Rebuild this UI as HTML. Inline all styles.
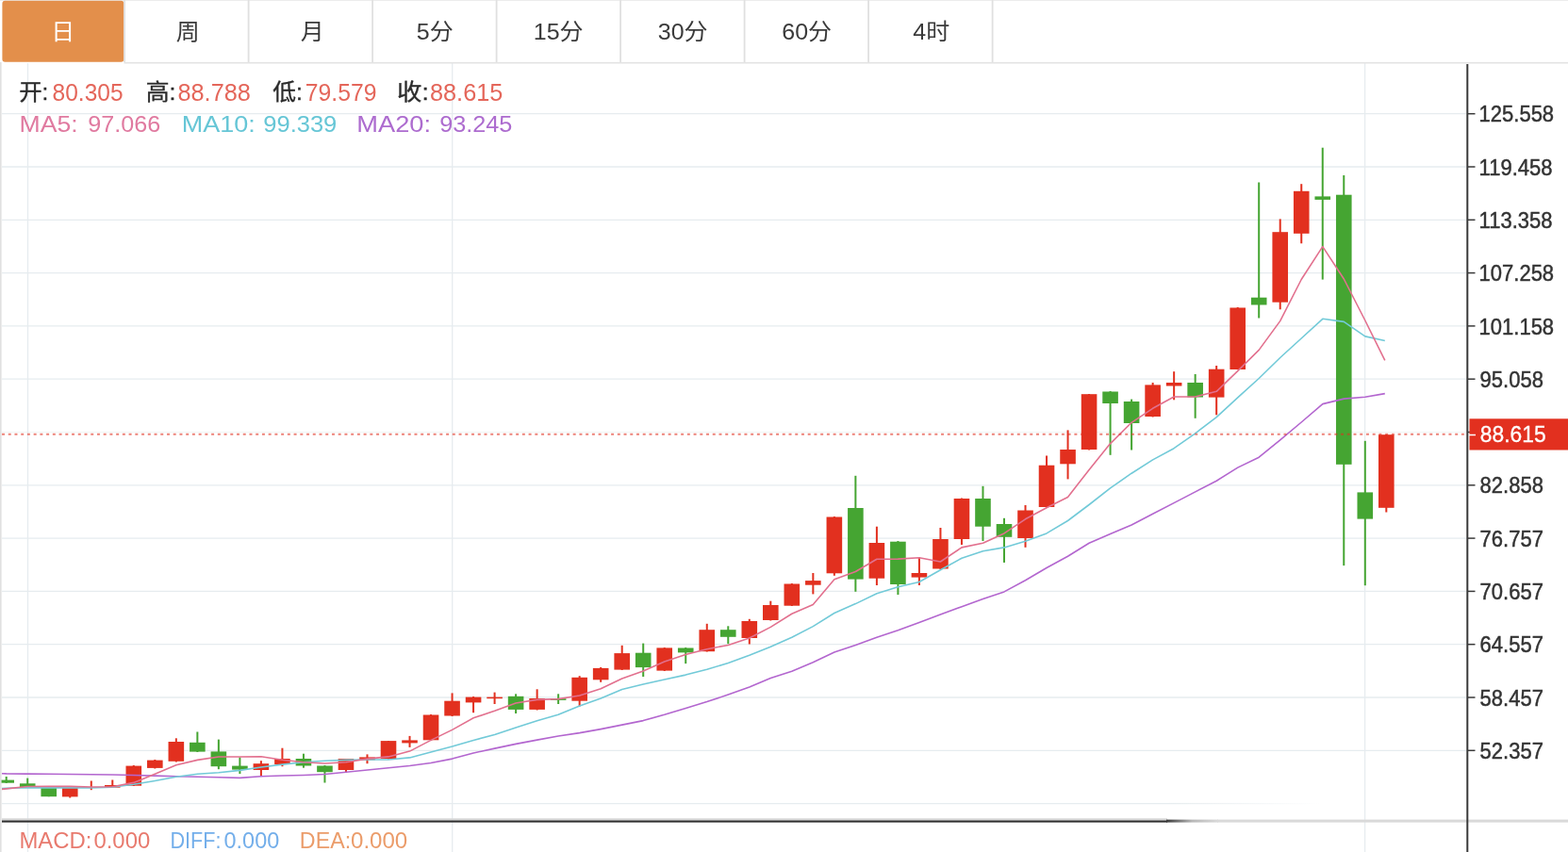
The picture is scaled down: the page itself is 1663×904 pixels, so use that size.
<!DOCTYPE html>
<html><head><meta charset="utf-8"><style>
html,body{margin:0;padding:0;background:#fff;}
body{width:1663px;height:904px;overflow:hidden;}
svg{display:block;}
text{font-family:"Liberation Sans", "Noto Sans CJK SC", sans-serif;}
.ax{font-size:22px;fill:#333;}
.lab{font-size:22px;}
.num{font-size:24px;}
.num2{font-size:22px;}
.tab{font-size:23px;}
</style></head><body>
<svg width="1663" height="904" viewBox="0 0 1663 904">
<rect width="1663" height="904" fill="#fff"/>
<defs><linearGradient id="fade" x1="0" x2="1" y1="0" y2="0"><stop offset="0" stop-color="#3a3a3a"/><stop offset="0.5" stop-color="#b8b8b8"/><stop offset="1" stop-color="#d9d9d9"/></linearGradient><linearGradient id="gfade" x1="0" x2="1" y1="0" y2="0"><stop offset="0" stop-color="#e6ecef"/><stop offset="1" stop-color="#ffffff"/></linearGradient></defs>
<line x1="2" y1="120.7" x2="1555" y2="120.7" stroke="#e6ecef" stroke-width="1.3"/>
<line x1="2" y1="177.0" x2="1555" y2="177.0" stroke="#e6ecef" stroke-width="1.3"/>
<line x1="2" y1="233.3" x2="1555" y2="233.3" stroke="#e6ecef" stroke-width="1.3"/>
<line x1="2" y1="289.6" x2="1555" y2="289.6" stroke="#e6ecef" stroke-width="1.3"/>
<line x1="2" y1="345.9" x2="1555" y2="345.9" stroke="#e6ecef" stroke-width="1.3"/>
<line x1="2" y1="402.2" x2="1555" y2="402.2" stroke="#e6ecef" stroke-width="1.3"/>
<line x1="2" y1="458.5" x2="1555" y2="458.5" stroke="#f1f5f5" stroke-width="1.2"/>
<line x1="2" y1="514.8" x2="1555" y2="514.8" stroke="#e6ecef" stroke-width="1.3"/>
<line x1="2" y1="571.1" x2="1555" y2="571.1" stroke="#e6ecef" stroke-width="1.3"/>
<line x1="2" y1="627.4" x2="1555" y2="627.4" stroke="#e6ecef" stroke-width="1.3"/>
<line x1="2" y1="683.7" x2="1555" y2="683.7" stroke="#e6ecef" stroke-width="1.3"/>
<line x1="2" y1="740.0" x2="1555" y2="740.0" stroke="#e6ecef" stroke-width="1.3"/>
<line x1="2" y1="796.3" x2="1555" y2="796.3" stroke="#e6ecef" stroke-width="1.3"/>
<line x1="2" y1="852.6" x2="1240" y2="852.6" stroke="#e6ecef" stroke-width="1.3"/>
<rect x="1240" y="851.95" width="160" height="1.3" fill="url(#gfade)"/>
<line x1="29.5" y1="67" x2="29.5" y2="904" stroke="#e6ecef" stroke-width="1.3"/>
<line x1="479.7" y1="67" x2="479.7" y2="904" stroke="#e6ecef" stroke-width="1.3"/>
<line x1="1447.6" y1="67" x2="1447.6" y2="904" stroke="#e6ecef" stroke-width="1.3"/>
<rect x="5.70" y="824.0" width="2" height="7.0" fill="#45a532"/>
<rect x="-1.60" y="827.6" width="16.6" height="3.1" fill="#45a532"/>
<rect x="28.22" y="825.6" width="2" height="9.9" fill="#45a532"/>
<rect x="20.92" y="831.3" width="16.6" height="4.0" fill="#45a532"/>
<rect x="50.73" y="835.4" width="2" height="9.8" fill="#45a532"/>
<rect x="43.43" y="835.4" width="16.6" height="9.8" fill="#45a532"/>
<rect x="73.25" y="834.0" width="2" height="12.5" fill="#e2301f"/>
<rect x="65.95" y="835.0" width="16.6" height="10.4" fill="#e2301f"/>
<rect x="95.77" y="828.5" width="2" height="9.7" fill="#e2301f"/>
<rect x="118.28" y="827.5" width="2" height="8.5" fill="#e2301f"/>
<rect x="110.98" y="833.0" width="16.6" height="2.7" fill="#e2301f"/>
<rect x="140.80" y="812.0" width="2" height="22.0" fill="#e2301f"/>
<rect x="133.50" y="812.6" width="16.6" height="21.1" fill="#e2301f"/>
<rect x="163.32" y="806.0" width="2" height="9.5" fill="#e2301f"/>
<rect x="156.02" y="806.6" width="16.6" height="8.3" fill="#e2301f"/>
<rect x="185.84" y="783.3" width="2" height="25.2" fill="#e2301f"/>
<rect x="178.54" y="787.0" width="16.6" height="20.8" fill="#e2301f"/>
<rect x="208.35" y="776.5" width="2" height="21.5" fill="#45a532"/>
<rect x="201.05" y="787.8" width="16.6" height="9.8" fill="#45a532"/>
<rect x="230.87" y="784.6" width="2" height="31.6" fill="#45a532"/>
<rect x="223.57" y="797.4" width="16.6" height="15.8" fill="#45a532"/>
<rect x="253.39" y="803.5" width="2" height="17.5" fill="#45a532"/>
<rect x="246.09" y="812.6" width="16.6" height="4.0" fill="#45a532"/>
<rect x="275.90" y="807.2" width="2" height="16.5" fill="#e2301f"/>
<rect x="268.60" y="810.2" width="16.6" height="6.8" fill="#e2301f"/>
<rect x="298.42" y="793.7" width="2" height="19.5" fill="#e2301f"/>
<rect x="291.12" y="805.0" width="16.6" height="6.0" fill="#e2301f"/>
<rect x="320.94" y="799.7" width="2" height="15.0" fill="#45a532"/>
<rect x="313.64" y="805.0" width="16.6" height="7.5" fill="#45a532"/>
<rect x="343.45" y="812.0" width="2" height="18.5" fill="#45a532"/>
<rect x="336.15" y="812.5" width="16.6" height="6.7" fill="#45a532"/>
<rect x="365.97" y="805.0" width="2" height="15.0" fill="#e2301f"/>
<rect x="358.67" y="805.0" width="16.6" height="12.0" fill="#e2301f"/>
<rect x="388.49" y="800.4" width="2" height="9.8" fill="#e2301f"/>
<rect x="381.19" y="803.4" width="16.6" height="3.0" fill="#e2301f"/>
<rect x="411.01" y="786.0" width="2" height="19.5" fill="#e2301f"/>
<rect x="403.71" y="786.1" width="16.6" height="18.9" fill="#e2301f"/>
<rect x="433.52" y="780.9" width="2" height="12.0" fill="#e2301f"/>
<rect x="426.22" y="785.4" width="16.6" height="3.0" fill="#e2301f"/>
<rect x="456.04" y="758.0" width="2" height="28.0" fill="#e2301f"/>
<rect x="448.74" y="758.5" width="16.6" height="26.8" fill="#e2301f"/>
<rect x="478.56" y="735.4" width="2" height="24.6" fill="#e2301f"/>
<rect x="471.26" y="743.7" width="16.6" height="15.8" fill="#e2301f"/>
<rect x="501.07" y="739.0" width="2" height="17.2" fill="#e2301f"/>
<rect x="493.77" y="739.6" width="16.6" height="5.8" fill="#e2301f"/>
<rect x="523.59" y="734.6" width="2" height="12.4" fill="#e2301f"/>
<rect x="516.29" y="739.6" width="16.6" height="1.6" fill="#e2301f"/>
<rect x="546.11" y="736.3" width="2" height="20.7" fill="#45a532"/>
<rect x="538.81" y="738.8" width="16.6" height="14.1" fill="#45a532"/>
<rect x="568.62" y="731.3" width="2" height="22.2" fill="#e2301f"/>
<rect x="561.33" y="741.0" width="16.6" height="11.9" fill="#e2301f"/>
<rect x="591.14" y="736.3" width="2" height="10.7" fill="#45a532"/>
<rect x="583.84" y="741.2" width="16.6" height="1.7" fill="#45a532"/>
<rect x="613.66" y="717.2" width="2" height="32.3" fill="#e2301f"/>
<rect x="606.36" y="718.8" width="16.6" height="24.9" fill="#e2301f"/>
<rect x="636.18" y="708.0" width="2" height="15.8" fill="#e2301f"/>
<rect x="628.88" y="708.9" width="16.6" height="12.4" fill="#e2301f"/>
<rect x="658.69" y="684.8" width="2" height="26.2" fill="#e2301f"/>
<rect x="651.39" y="693.1" width="16.6" height="17.5" fill="#e2301f"/>
<rect x="681.21" y="682.6" width="2" height="35.4" fill="#45a532"/>
<rect x="673.91" y="692.7" width="16.6" height="15.4" fill="#45a532"/>
<rect x="703.73" y="687.0" width="2" height="25.0" fill="#e2301f"/>
<rect x="696.43" y="687.4" width="16.6" height="24.2" fill="#e2301f"/>
<rect x="726.24" y="687.0" width="2" height="17.1" fill="#45a532"/>
<rect x="718.94" y="687.5" width="16.6" height="4.9" fill="#45a532"/>
<rect x="748.76" y="661.8" width="2" height="29.7" fill="#e2301f"/>
<rect x="741.46" y="668.2" width="16.6" height="23.0" fill="#e2301f"/>
<rect x="771.28" y="664.3" width="2" height="18.9" fill="#45a532"/>
<rect x="763.98" y="668.2" width="16.6" height="7.6" fill="#45a532"/>
<rect x="793.80" y="656.8" width="2" height="26.7" fill="#e2301f"/>
<rect x="786.50" y="659.0" width="16.6" height="18.0" fill="#e2301f"/>
<rect x="816.31" y="637.7" width="2" height="20.8" fill="#e2301f"/>
<rect x="809.01" y="642.0" width="16.6" height="16.0" fill="#e2301f"/>
<rect x="838.83" y="619.0" width="2" height="24.0" fill="#e2301f"/>
<rect x="831.53" y="619.5" width="16.6" height="23.2" fill="#e2301f"/>
<rect x="861.35" y="608.0" width="2" height="22.4" fill="#e2301f"/>
<rect x="854.05" y="616.1" width="16.6" height="4.6" fill="#e2301f"/>
<rect x="883.86" y="548.0" width="2" height="62.8" fill="#e2301f"/>
<rect x="876.56" y="548.5" width="16.6" height="59.8" fill="#e2301f"/>
<rect x="906.38" y="504.8" width="2" height="123.0" fill="#45a532"/>
<rect x="899.08" y="539.0" width="16.6" height="75.6" fill="#45a532"/>
<rect x="928.90" y="558.7" width="2" height="62.3" fill="#e2301f"/>
<rect x="921.60" y="576.0" width="16.6" height="37.7" fill="#e2301f"/>
<rect x="951.41" y="574.0" width="2" height="57.0" fill="#45a532"/>
<rect x="944.11" y="574.7" width="16.6" height="45.3" fill="#45a532"/>
<rect x="973.93" y="591.3" width="2" height="29.7" fill="#e2301f"/>
<rect x="966.63" y="608.0" width="16.6" height="4.6" fill="#e2301f"/>
<rect x="996.45" y="560.0" width="2" height="44.0" fill="#e2301f"/>
<rect x="989.15" y="572.0" width="16.6" height="31.5" fill="#e2301f"/>
<rect x="1018.97" y="528.5" width="2" height="49.5" fill="#e2301f"/>
<rect x="1011.67" y="529.0" width="16.6" height="43.0" fill="#e2301f"/>
<rect x="1041.48" y="515.8" width="2" height="58.2" fill="#45a532"/>
<rect x="1034.18" y="529.0" width="16.6" height="29.7" fill="#45a532"/>
<rect x="1064.00" y="549.8" width="2" height="47.1" fill="#45a532"/>
<rect x="1056.70" y="556.0" width="16.6" height="13.8" fill="#45a532"/>
<rect x="1086.52" y="536.0" width="2" height="44.8" fill="#e2301f"/>
<rect x="1079.22" y="541.5" width="16.6" height="29.5" fill="#e2301f"/>
<rect x="1109.03" y="483.5" width="2" height="55.0" fill="#e2301f"/>
<rect x="1101.73" y="493.7" width="16.6" height="44.3" fill="#e2301f"/>
<rect x="1131.55" y="456.4" width="2" height="52.0" fill="#e2301f"/>
<rect x="1124.25" y="477.0" width="16.6" height="15.3" fill="#e2301f"/>
<rect x="1154.07" y="418.0" width="2" height="59.5" fill="#e2301f"/>
<rect x="1146.77" y="418.2" width="16.6" height="58.8" fill="#e2301f"/>
<rect x="1176.58" y="415.0" width="2" height="67.8" fill="#45a532"/>
<rect x="1169.28" y="415.5" width="16.6" height="12.5" fill="#45a532"/>
<rect x="1199.10" y="423.6" width="2" height="53.9" fill="#45a532"/>
<rect x="1191.80" y="426.0" width="16.6" height="23.0" fill="#45a532"/>
<rect x="1221.62" y="406.0" width="2" height="36.5" fill="#e2301f"/>
<rect x="1214.32" y="408.4" width="16.6" height="33.6" fill="#e2301f"/>
<rect x="1244.13" y="394.2" width="2" height="30.1" fill="#e2301f"/>
<rect x="1236.84" y="406.0" width="16.6" height="3.5" fill="#e2301f"/>
<rect x="1266.65" y="397.0" width="2" height="46.8" fill="#45a532"/>
<rect x="1259.35" y="406.0" width="16.6" height="15.5" fill="#45a532"/>
<rect x="1289.17" y="388.0" width="2" height="52.3" fill="#e2301f"/>
<rect x="1281.87" y="391.7" width="16.6" height="29.9" fill="#e2301f"/>
<rect x="1311.69" y="326.0" width="2" height="66.2" fill="#e2301f"/>
<rect x="1304.39" y="326.5" width="16.6" height="65.5" fill="#e2301f"/>
<rect x="1334.20" y="193.5" width="2" height="144.0" fill="#45a532"/>
<rect x="1326.90" y="315.7" width="16.6" height="7.8" fill="#45a532"/>
<rect x="1356.72" y="232.4" width="2" height="95.9" fill="#e2301f"/>
<rect x="1349.42" y="246.2" width="16.6" height="74.5" fill="#e2301f"/>
<rect x="1379.24" y="195.2" width="2" height="63.1" fill="#e2301f"/>
<rect x="1371.94" y="202.8" width="16.6" height="45.0" fill="#e2301f"/>
<rect x="1401.75" y="156.7" width="2" height="139.9" fill="#45a532"/>
<rect x="1394.45" y="208.4" width="16.6" height="3.5" fill="#45a532"/>
<rect x="1424.27" y="186.0" width="2" height="414.1" fill="#45a532"/>
<rect x="1416.97" y="206.7" width="16.6" height="286.1" fill="#45a532"/>
<rect x="1446.79" y="467.8" width="2" height="153.4" fill="#45a532"/>
<rect x="1439.49" y="522.4" width="16.6" height="28.2" fill="#45a532"/>
<rect x="1469.31" y="461.0" width="2" height="82.5" fill="#e2301f"/>
<rect x="1462.01" y="461.2" width="16.6" height="77.6" fill="#e2301f"/>
<polyline points="2.0,820.7 6.7,820.9 29.2,821.1 51.7,821.3 74.3,821.5 96.8,821.7 119.3,822.0 141.8,822.5 164.3,823.1 186.8,823.7 209.4,824.2 231.9,824.8 254.4,825.4 276.9,823.7 299.4,823.0 321.9,822.5 344.5,821.5 367.0,819.2 389.5,817.0 412.0,814.7 434.5,812.5 457.0,809.5 479.6,805.1 502.1,799.0 524.6,794.1 547.1,789.4 569.6,785.1 592.1,781.0 614.7,777.6 637.2,773.6 659.7,769.1 682.2,764.6 704.7,758.3 727.2,751.4 749.8,744.6 772.3,737.0 794.8,729.0 817.3,719.4 839.8,712.2 862.3,702.8 884.9,692.0 907.4,684.5 929.9,676.2 952.4,668.8 974.9,660.5 997.4,652.0 1020.0,643.7 1042.5,635.4 1065.0,627.9 1087.5,615.7 1110.0,602.5 1132.5,590.3 1155.1,576.2 1177.6,566.5 1200.1,557.0 1222.6,545.3 1245.1,533.6 1267.7,521.9 1290.2,510.2 1312.7,496.1 1335.2,485.2 1357.7,466.9 1380.2,448.0 1402.8,428.6 1425.3,423.1 1447.8,421.3 1468.8,417.6" fill="none" stroke="#b366cf" stroke-width="1.6" stroke-linejoin="round"/>
<polyline points="2.0,836.6 6.7,836.4 29.2,835.8 51.7,835.9 74.3,835.9 96.8,835.9 119.3,835.2 141.8,832.3 164.3,828.5 186.8,824.2 209.4,821.3 231.9,819.8 254.4,817.4 276.9,814.0 299.4,811.1 321.9,808.7 344.5,807.2 367.0,806.4 389.5,806.0 412.0,806.0 434.5,803.9 457.0,798.0 479.6,792.1 502.1,785.4 524.6,779.5 547.1,771.9 569.6,764.7 592.1,758.2 614.7,748.9 637.2,740.9 659.7,731.5 682.2,726.0 704.7,721.0 727.2,716.1 749.8,710.2 772.3,703.6 794.8,695.3 817.3,686.2 839.8,676.2 862.3,664.6 884.9,650.5 907.4,640.6 929.9,629.8 952.4,622.8 974.9,617.5 997.4,604.8 1020.0,592.2 1042.5,584.7 1065.0,580.9 1087.5,574.3 1110.0,565.9 1132.5,552.5 1155.1,535.5 1177.6,517.9 1200.1,502.2 1222.6,487.9 1245.1,475.7 1267.7,459.8 1290.2,442.6 1312.7,421.8 1335.2,401.5 1357.7,379.5 1380.2,359.0 1402.8,338.3 1425.3,341.4 1447.8,356.9 1468.8,361.5" fill="none" stroke="#72cad8" stroke-width="1.6" stroke-linejoin="round"/>
<polyline points="2.0,837.4 6.7,836.9 29.2,834.5 51.7,834.4 74.3,834.4 96.8,835.0 119.3,834.8 141.8,830.4 164.3,821.3 186.8,811.7 209.4,806.4 231.9,803.0 254.4,803.0 276.9,802.7 299.4,806.3 321.9,808.7 344.5,810.0 367.0,808.7 389.5,805.1 412.0,802.9 434.5,797.1 457.0,785.4 479.6,774.4 502.1,761.8 524.6,754.2 547.1,746.0 569.6,742.4 592.1,741.6 614.7,738.0 637.2,730.8 659.7,720.0 682.2,712.1 704.7,702.0 727.2,694.5 749.8,688.7 772.3,684.5 794.8,677.0 817.3,665.4 839.8,651.3 862.3,641.4 884.9,614.8 907.4,606.5 929.9,593.3 952.4,593.1 974.9,591.8 997.4,596.0 1020.0,580.9 1042.5,576.2 1065.0,565.9 1087.5,550.8 1110.0,538.7 1132.5,527.5 1155.1,498.4 1177.6,470.6 1200.1,448.3 1222.6,433.3 1245.1,421.0 1267.7,421.0 1290.2,415.3 1312.7,393.7 1335.2,371.4 1357.7,340.6 1380.2,296.5 1402.8,261.6 1425.3,296.0 1447.8,340.0 1468.8,382.4" fill="none" stroke="#e2708e" stroke-width="1.6" stroke-linejoin="round"/>
<line x1="2" y1="460.7" x2="1555" y2="460.7" stroke="#e0301f" stroke-opacity="0.6" stroke-width="2" stroke-dasharray="3 3.73"/>
<line x1="1557" y1="120.7" x2="1564.5" y2="120.7" stroke="#3a3a3a" stroke-width="1.5"/>
<line x1="1557" y1="177.0" x2="1564.5" y2="177.0" stroke="#3a3a3a" stroke-width="1.5"/>
<line x1="1557" y1="233.3" x2="1564.5" y2="233.3" stroke="#3a3a3a" stroke-width="1.5"/>
<line x1="1557" y1="289.6" x2="1564.5" y2="289.6" stroke="#3a3a3a" stroke-width="1.5"/>
<line x1="1557" y1="345.9" x2="1564.5" y2="345.9" stroke="#3a3a3a" stroke-width="1.5"/>
<line x1="1557" y1="402.2" x2="1564.5" y2="402.2" stroke="#3a3a3a" stroke-width="1.5"/>
<line x1="1557" y1="458.5" x2="1564.5" y2="458.5" stroke="#3a3a3a" stroke-width="1.5"/>
<line x1="1557" y1="514.8" x2="1564.5" y2="514.8" stroke="#3a3a3a" stroke-width="1.5"/>
<line x1="1557" y1="571.1" x2="1564.5" y2="571.1" stroke="#3a3a3a" stroke-width="1.5"/>
<line x1="1557" y1="627.4" x2="1564.5" y2="627.4" stroke="#3a3a3a" stroke-width="1.5"/>
<line x1="1557" y1="683.7" x2="1564.5" y2="683.7" stroke="#3a3a3a" stroke-width="1.5"/>
<line x1="1557" y1="740.0" x2="1564.5" y2="740.0" stroke="#3a3a3a" stroke-width="1.5"/>
<line x1="1557" y1="796.3" x2="1564.5" y2="796.3" stroke="#3a3a3a" stroke-width="1.5"/>
<rect x="1558.5" y="444.3" width="105" height="33.2" fill="#e2301f"/>
<line x1="1558" y1="461.5" x2="1565" y2="461.5" stroke="#ffffff" stroke-width="1.5"/>
<rect x="2" y="868.3" width="1236" height="2.1" fill="#d6d6d6"/>
<rect x="2" y="870.5" width="1236" height="2.1" fill="#2e2e2e"/>
<rect x="1237" y="869.6" width="55" height="3" fill="url(#fade)"/>
<rect x="1291" y="869.6" width="372" height="3" fill="#d9d9d9"/>
<line x1="1556.3" y1="68" x2="1556.3" y2="904" stroke="#3a3a3a" stroke-width="2"/>
<rect x="0" y="66" width="1.6" height="838" fill="#e0e0e0"/>
<rect x="131.5" y="65.9" width="1531.5" height="1.6" fill="#e3e3e3"/>
<rect x="0" y="0" width="1663" height="1" fill="#ececec"/>
<rect x="2.4" y="0.8" width="129" height="65" rx="3" fill="#e38f4b"/>
<rect x="131.2" y="0" width="1.8" height="66" fill="#e0e0e0"/>
<rect x="262.7" y="0" width="1.8" height="66" fill="#e0e0e0"/>
<rect x="394.2" y="0" width="1.8" height="66" fill="#e0e0e0"/>
<rect x="525.7" y="0" width="1.8" height="66" fill="#e0e0e0"/>
<rect x="657.2" y="0" width="1.8" height="66" fill="#e0e0e0"/>
<rect x="788.7" y="0" width="1.8" height="66" fill="#e0e0e0"/>
<rect x="920.2" y="0" width="1.8" height="66" fill="#e0e0e0"/>
<rect x="1051.7" y="0" width="1.8" height="66" fill="#e0e0e0"/>
<text transform="matrix(0.9400,0,0,0.9167,20.16,106.15)" font-size="26" style="fill:#2b2b2b;stroke:#2b2b2b;stroke-width:0.35">开:</text>
<text transform="matrix(0.9567,0,0,0.9167,154.64,106.15)" font-size="26" style="fill:#2b2b2b;stroke:#2b2b2b;stroke-width:0.35">高:</text>
<text transform="matrix(0.9533,0,0,0.9167,289.15,106.15)" font-size="26" style="fill:#2b2b2b;stroke:#2b2b2b;stroke-width:0.35">低:</text>
<text transform="matrix(1.0172,0,0,0.9167,421.07,106.15)" font-size="26" style="fill:#2b2b2b;stroke:#2b2b2b;stroke-width:0.35">收:</text>
<text transform="matrix(1.0000,0,0,1.0176,55.60,106.50)" font-size="24.5" style="fill:#e4665a">80.305</text>
<text transform="matrix(1.0329,0,0,1.0176,188.47,106.50)" font-size="24.5" style="fill:#e4665a">88.788</text>
<text transform="matrix(1.0096,0,0,1.0176,323.79,106.50)" font-size="24.5" style="fill:#e4665a">79.579</text>
<text transform="matrix(1.0329,0,0,1.0176,455.97,106.50)" font-size="24.5" style="fill:#e4665a">88.615</text>
<text transform="matrix(1.1096,0,0,1.0235,20.58,139.70)" font-size="24" style="fill:#e07aa0">MA5:</text>
<text transform="matrix(1.0493,0,0,1.0235,93.35,139.70)" font-size="24" style="fill:#e07aa0">97.066</text>
<text transform="matrix(1.1262,0,0,1.0235,192.65,139.70)" font-size="24" style="fill:#66c6d6">MA10:</text>
<text transform="matrix(1.0620,0,0,1.0235,279.34,139.70)" font-size="24" style="fill:#66c6d6">99.339</text>
<text transform="matrix(1.1354,0,0,1.0235,378.33,139.70)" font-size="24" style="fill:#ad6ccf">MA20:</text>
<text transform="matrix(1.0535,0,0,1.0235,466.15,139.70)" font-size="24" style="fill:#ad6ccf">93.245</text>
<text transform="matrix(0.9959,0,0,0.9824,20.41,900.10)" font-size="24" style="fill:#e87a6e">MACD:</text>
<text transform="matrix(0.9966,0,0,0.9824,99.40,900.10)" font-size="24" style="fill:#e87a6e">0.000</text>
<text transform="matrix(0.9000,0,0,0.9824,180.40,900.10)" font-size="24" style="fill:#73aeea">DIFF:</text>
<text transform="matrix(0.9776,0,0,0.9824,237.52,900.10)" font-size="24" style="fill:#73aeea">0.000</text>
<text transform="matrix(0.9692,0,0,0.9824,317.86,900.10)" font-size="24" style="fill:#eb9c6a">DEA:</text>
<text transform="matrix(1.0034,0,0,0.9824,372.00,900.10)" font-size="24" style="fill:#eb9c6a">0.000</text>
<text transform="matrix(1.0000,0,0,1.0733,1568.60,129.30)" font-size="22" style="fill:#333333;stroke:#333333;stroke-width:0.45">125.558</text>
<text transform="matrix(1.0000,0,0,1.0733,1568.60,185.60)" font-size="22" style="fill:#333333;stroke:#333333;stroke-width:0.45">119.458</text>
<text transform="matrix(1.0000,0,0,1.0733,1568.60,241.90)" font-size="22" style="fill:#333333;stroke:#333333;stroke-width:0.45">113.358</text>
<text transform="matrix(1.0000,0,0,1.0733,1568.60,298.20)" font-size="22" style="fill:#333333;stroke:#333333;stroke-width:0.45">107.258</text>
<text transform="matrix(1.0000,0,0,1.0733,1568.60,354.50)" font-size="22" style="fill:#333333;stroke:#333333;stroke-width:0.45">101.158</text>
<text transform="matrix(1.0000,0,0,1.0733,1569.60,410.80)" font-size="22" style="fill:#333333;stroke:#333333;stroke-width:0.45">95.058</text>
<text transform="matrix(1.0000,0,0,1.0733,1569.60,523.40)" font-size="22" style="fill:#333333;stroke:#333333;stroke-width:0.45">82.858</text>
<text transform="matrix(1.0000,0,0,1.0733,1569.60,579.70)" font-size="22" style="fill:#333333;stroke:#333333;stroke-width:0.45">76.757</text>
<text transform="matrix(1.0000,0,0,1.0733,1569.60,636.00)" font-size="22" style="fill:#333333;stroke:#333333;stroke-width:0.45">70.657</text>
<text transform="matrix(1.0000,0,0,1.0733,1569.60,692.30)" font-size="22" style="fill:#333333;stroke:#333333;stroke-width:0.45">64.557</text>
<text transform="matrix(1.0000,0,0,1.0733,1569.60,748.60)" font-size="22" style="fill:#333333;stroke:#333333;stroke-width:0.45">58.457</text>
<text transform="matrix(1.0000,0,0,1.0733,1569.60,804.90)" font-size="22" style="fill:#333333;stroke:#333333;stroke-width:0.45">52.357</text>
<text transform="matrix(1.0369,0,0,1.0933,1569.86,468.80)" font-size="22" style="fill:#ffffff;stroke:#ffffff;stroke-width:0.3">88.615</text>
<text transform="matrix(1.0000,0,0,0.9565,54.25,41.93)" font-size="25" style="fill:#ffffff">日</text>
<text transform="matrix(1.0000,0,0,0.9565,186.75,41.93)" font-size="25" style="fill:#3a3a3a">周</text>
<text transform="matrix(1.0000,0,0,0.9565,318.75,41.93)" font-size="25" style="fill:#3a3a3a">月</text>
<text transform="matrix(1.0000,0,0,0.9565,441.75,41.93)" font-size="25" style="fill:#3a3a3a">5分</text>
<text transform="matrix(1.0000,0,0,0.9565,565.75,41.93)" font-size="25" style="fill:#3a3a3a">15分</text>
<text transform="matrix(1.0000,0,0,0.9565,697.75,41.93)" font-size="25" style="fill:#3a3a3a">30分</text>
<text transform="matrix(1.0000,0,0,0.9565,829.25,41.93)" font-size="25" style="fill:#3a3a3a">60分</text>
<text transform="matrix(1.0000,0,0,0.9565,968.25,41.93)" font-size="25" style="fill:#3a3a3a">4时</text>
</svg>
</body></html>
